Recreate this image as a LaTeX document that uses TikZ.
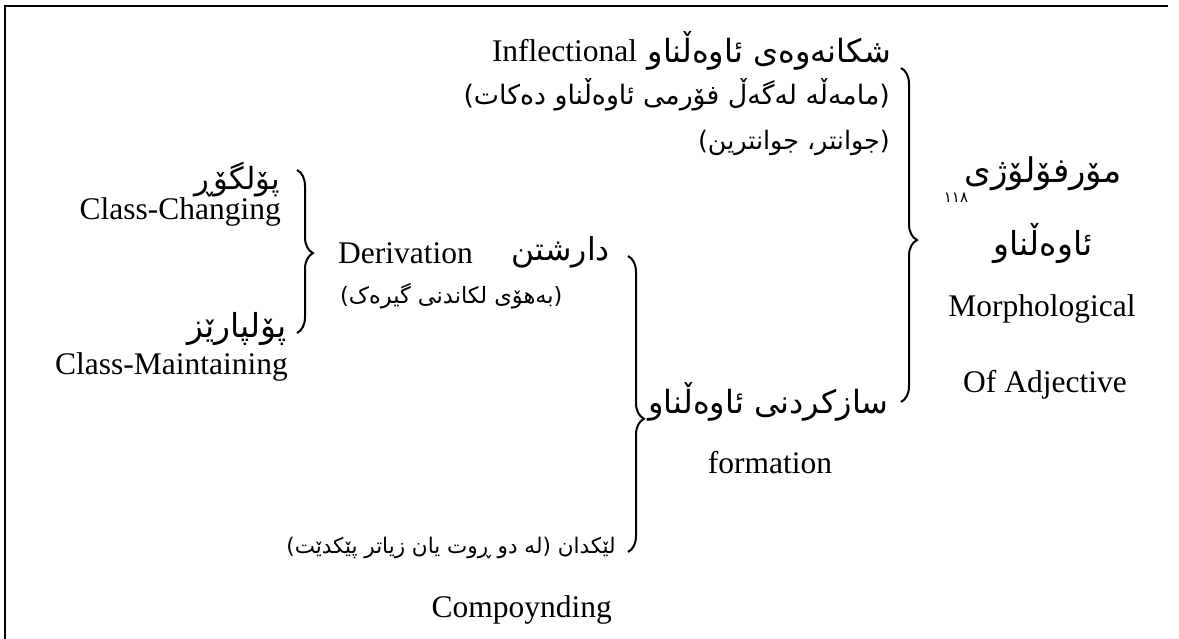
\documentclass[tikz,border=0pt]{standalone}
\usepackage{fontspec}
\setmainfont{Liberation Serif}
\newfontfamily\kufont[Script=Arabic]{DejaVu Sans}
\TeXXeTstate=1
\usetikzlibrary{decorations.pathreplacing}
\tikzset{
  en/.style={font=\fontsize{31.5}{36}\selectfont, inner sep=0pt},
  ku/.style={font=\kufont\fontsize{#1}{#1}\selectfont, inner sep=0pt},
  ku/.default=24,
  fnote/.style={font=\kufont\fontsize{15}{18}\selectfont, inner sep=0pt},
  bracestyle/.style={decorate, decoration={brace, amplitude=16pt, aspect=#1}, line width=2pt},
  frame/.style={line width=1.5pt}
}
\begin{document}
\begin{tikzpicture}[x=1pt,y=-1pt]
\useasboundingbox (0,0) rectangle (1179,639);
% frame
\coordinate (fbl) at (5,639);
\coordinate (ftl) at (5,6);
\coordinate (ftr) at (1168,6);
\draw[frame] (fbl) -- (ftl) -- (ftr);

% top group (inflection)
\node[ku=32, anchor=east] (infku) at (891,51) {\beginR شکانەوەی ئاوەڵناو\endR};
\node[en, anchor=east] (infen) at ([xshift=-10pt]infku.west) {Inflectional};
\node[ku=26.8, anchor=east] (deal) at (890,95) {\beginR (مامەڵە لەگەڵ فۆرمی ئاوەڵناو دەکات)\endR};
\node[ku=25.4, anchor=east] (ex) at (890,143) {\beginR (جوانتر، جوانترین)\endR};

% formation
\node[ku=32, anchor=east] (formku) at (889,402) {\beginR سازکردنی ئاوەڵناو\endR};
\node[en] (formen) at (770,463) {formation};

% root column
\node[ku=34] (rootku) at (1043,174) {\beginR مۆرفۆلۆژی\endR};
\node[fnote] (fn) at (956,198) {\beginR ١١٨\endR};
\node[ku=33] (rootku2) at (1043,244) {\beginR ئاوەڵناو\endR};
\node[en] (rooten1) at (1042,309) {Morphological};
\node[en] (rooten2) at (1045,385) {Of Adjective};

% derivation
\node[ku=31.5, anchor=east] (derku) at (610,252) {\beginR دارشتن\endR};
\node[en, anchor=west] (deren) at (338,253) {Derivation};
\node[ku=22.5, anchor=west] (dernote) at (340,296) {\beginR (بەهۆی لکاندنی گیرەک)\endR};

% class changing / maintaining
\node[ku=30.6, anchor=east] (ccku) at (280,180) {\beginR پۆلگۆڕ\endR};
\node[en, anchor=east] (ccen) at (281,212) {Class-Changing};
\node[ku=33, anchor=east] (cmku) at (287,329) {\beginR پۆلپارێز\endR};
\node[en, anchor=east] (cmen) at (288,367) {Class-Maintaining};

% compounding
\node[ku=21.5, anchor=east] (compku) at (616,548) {\beginR لێکدان (لە دو ڕوت یان زیاتر پێکدێت)\endR};
\node[en, anchor=east] (compen) at (612,610) {Compoynding};

% braces
\coordinate (b1t) at (297,170);
\coordinate (b1b) at (297,333);
\draw[bracestyle=0.51] (b1t) -- (b1b);
\coordinate (b2t) at (628,256);
\coordinate (b2b) at (628,552);
\draw[bracestyle=0.55] (b2t) -- (b2b);
\coordinate (b3t) at (901,68);
\coordinate (b3b) at (901,402);
\draw[bracestyle=0.515] (b3t) -- (b3b);
\end{tikzpicture}
\end{document}
